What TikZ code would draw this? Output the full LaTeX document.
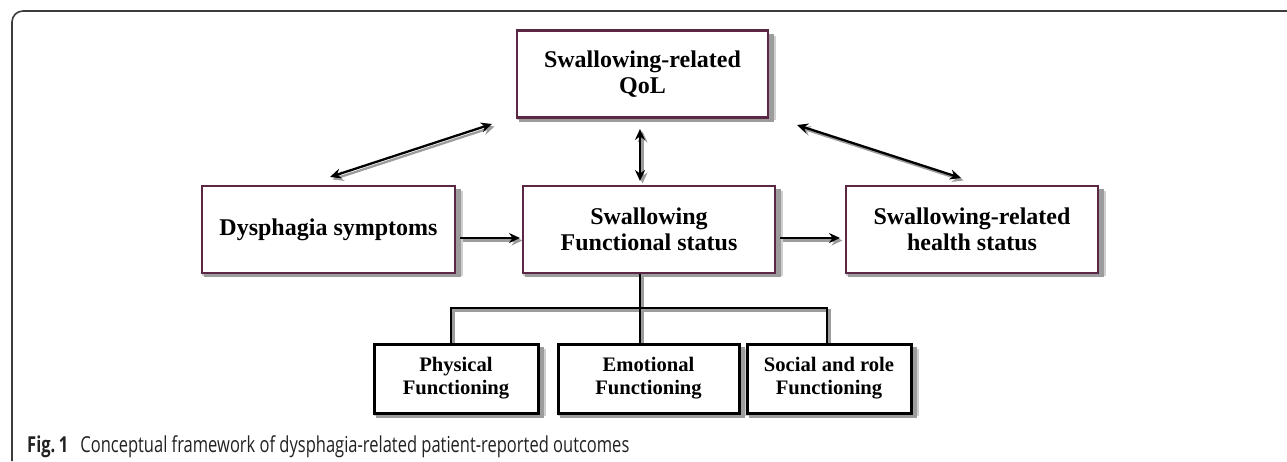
\documentclass[tikz,border=0pt]{standalone}
\usepackage{fontspec}
\setmainfont{Liberation Serif}
\newfontfamily\bxfont{Liberation Serif}
\newfontfamily\capfont{Open Sans}[FakeStretch=0.75]
\usetikzlibrary{arrows.meta,positioning}
\pgfdeclarelayer{bg}
\pgfdeclarelayer{shd}
\pgfsetlayers{bg,shd,main}
\definecolor{boxcol}{HTML}{5A2845}
\definecolor{framecol}{HTML}{3C3C3C}
\definecolor{capcol}{HTML}{222222}
\definecolor{shadcol}{HTML}{9C9C9C}
\definecolor{shadlight}{HTML}{CFCFCF}
\begin{document}
\begin{tikzpicture}[x=1pt,y=-1pt,
  mainbox/.style={draw=boxcol, line width=2.2pt, fill=white, minimum width=251pt, minimum height=87pt,
    align=center, inner sep=0pt, font=\bxfont\bfseries\fontsize{24}{26}\selectfont},
  subbox/.style={draw=black, line width=3pt, fill=white, minimum height=69pt,
    align=center, inner sep=0pt, font=\bxfont\bfseries\fontsize{20.6}{23}\selectfont},
  arrshad/.style={draw=shadcol, transform canvas={xshift=2.5pt,yshift=-2.5pt}},
  dblarrow/.style={line width=2.3pt, {Stealth[length=11pt,width=10pt]}-{Stealth[length=11pt,width=10pt]}},
  onearrow/.style={line width=2.3pt, -{Stealth[length=11pt,width=10pt]}},
  treeline/.style={line width=2.4pt, line cap=rect}
]
\useasboundingbox (0,0) rectangle (1287,461);

% main boxes
\node[mainbox] (qol) at (642.5,74) {Swallowing-related\\QoL};
\node[mainbox, minimum width=253pt] (dys) at (328.5,229.5) {Dysphagia symptoms};
\node[mainbox, minimum width=252pt] (fun) at (649,229.5) {Swallowing\\Functional status};
\node[mainbox, minimum width=252pt] (hea) at (972,229.5) {Swallowing-related\\health status};

% sub boxes
\node[subbox, minimum width=164pt] (phy) at (456,378.5) {Physical\\Functioning};
\node[subbox, minimum width=181pt] (emo) at (648.5,378.5) {Emotional\\Functioning};
\node[subbox, minimum width=164pt] (soc) at (829,378.5) {Social and role\\Functioning};

% arrow end points
\coordinate (a1s) at (330,177);
\coordinate (a1e) at (492,124);
\coordinate (a2s) at (640,129);
\coordinate (a2e) at (640,181);
\coordinate (a3s) at (797,125);
\coordinate (a3e) at (961,178);
\coordinate (h1s) at (460,238);
\coordinate (h1e) at (520,238);
\coordinate (h2s) at (780,238);
\coordinate (h2e) at (840,238);
\coordinate (tt) at (640,274);
\coordinate (tj) at (640,308);
\coordinate (tl) at (451,308);
\coordinate (tr) at (827,308);
\coordinate (tlb) at (451,344);
\coordinate (tjb) at (640,344);
\coordinate (trb) at (827,344);

\begin{pgfonlayer}{bg}
\fill[white] (0,0) rectangle (1287,461);
\draw[framecol, line width=1.6pt, rounded corners=11pt] (1287,11) -- (12,11) -- (12,461);
\end{pgfonlayer}

% shadows of boxes and connectors
\begin{pgfonlayer}{shd}
\foreach \n in {qol,dys,fun,hea,phy,emo,soc}{
  \fill[shadlight] ([xshift=1.5pt,yshift=-1.5pt]\n.south west) rectangle ([xshift=6.5pt,yshift=-6.5pt]\n.north east);
  \fill[shadcol] ([xshift=3pt,yshift=-3pt]\n.south west) rectangle ([xshift=4.5pt,yshift=-4.5pt]\n.north east);
}
\draw[dblarrow, arrshad, fill=shadcol] (a1s) -- (a1e);
\draw[dblarrow, arrshad, fill=shadcol] (a2s) -- (a2e);
\draw[dblarrow, arrshad, fill=shadcol] (a3s) -- (a3e);
\draw[onearrow, arrshad, fill=shadcol] (h1s) -- (h1e);
\draw[onearrow, arrshad, fill=shadcol] (h2s) -- (h2e);
\draw[treeline, arrshad] (tt) -- (tj);
\draw[treeline, arrshad] (tlb) -- (tl) -- (tr) -- (trb);
\draw[treeline, arrshad] (tj) -- (tjb);
\end{pgfonlayer}

% connectors
\begin{pgfonlayer}{shd}
\draw[dblarrow] (a1s) -- (a1e);
\draw[dblarrow] (a2s) -- (a2e);
\draw[dblarrow] (a3s) -- (a3e);
\draw[onearrow] (h1s) -- (h1e);
\draw[onearrow] (h2s) -- (h2e);
\draw[treeline] (tt) -- (tj);
\draw[treeline] (tlb) -- (tl) -- (tr) -- (trb);
\draw[treeline] (tj) -- (tjb);
\end{pgfonlayer}

% caption
\node[anchor=base west, inner sep=0pt, text=capcol, font=\capfont\fontsize{22}{22}\selectfont] (cap) at (27,452)
  {\textbf{Fig.\,1}\hspace{12pt}Conceptual framework of dysphagia-related patient-reported outcomes};
\end{tikzpicture}
\end{document}
